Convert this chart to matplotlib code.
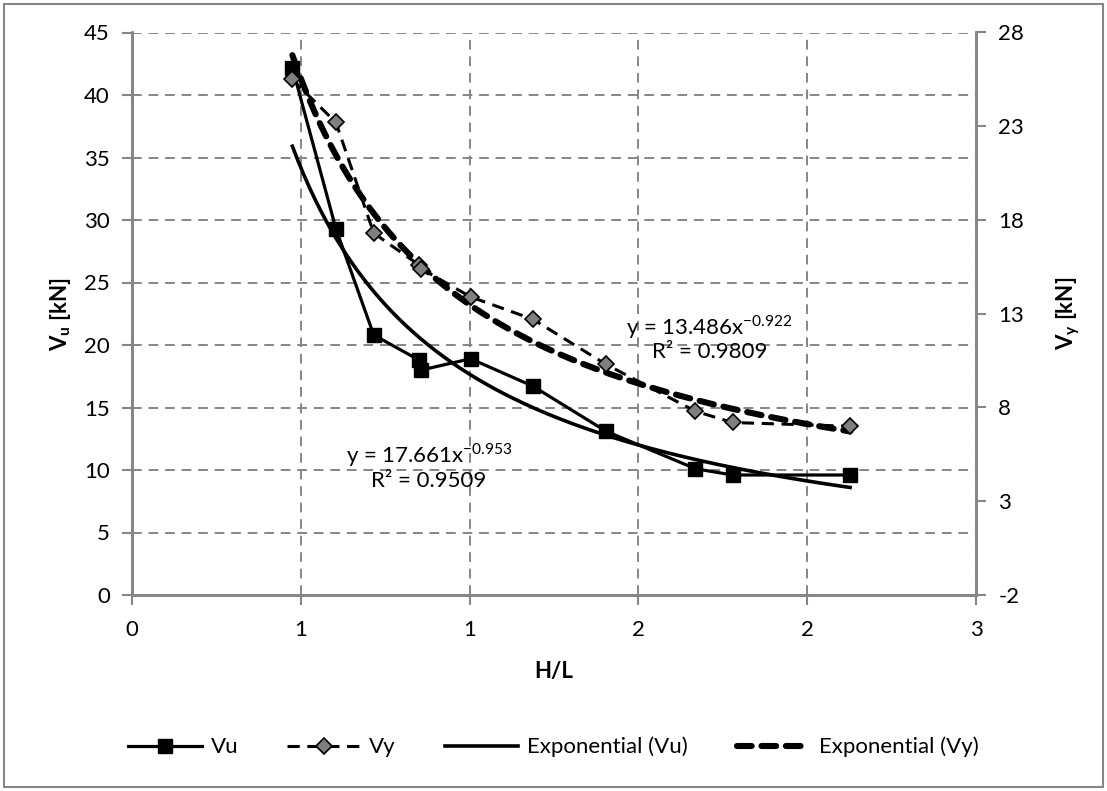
import numpy as np
import matplotlib.pyplot as plt
from matplotlib.patches import Rectangle

plt.rcParams['font.family'] = ['Lato', 'DejaVu Sans']
plt.rcParams['mathtext.fontset'] = 'custom'
plt.rcParams['mathtext.rm'] = 'Lato'
plt.rcParams['mathtext.bf'] = 'Lato:bold'
plt.rcParams['axes.unicode_minus'] = False

# H/L ratio and measured shear forces
hl = [0.475, 0.604, 0.716, 0.850, 0.857, 1.003, 1.188, 1.404, 1.669, 1.779, 2.127]
vu = [42.2, 29.3, 20.8, 18.8, 18.0, 18.9, 16.7, 13.1, 10.1, 9.6, 9.6]
vy = [25.5, 23.2, 17.3, 15.6, 15.4, 13.9, 12.7, 10.3, 7.8, 7.2, 7.0]

# power trendlines y = a * x^b
fit_vu = (17.661, -0.953, 0.9509)
fit_vy = (13.486, -0.922, 0.9809)

x_ticks = [0, 0.5, 1.0, 1.5, 2.0, 2.5]
vu_ticks = [0, 5, 10, 15, 20, 25, 30, 35, 40, 45]
vy_ticks = [-2, 3, 8, 13, 18, 23, 28]

GRAY = '#868686'
FS = 16

W, H = 1107, 791
fig = plt.figure(figsize=(W / 100, H / 100), dpi=100)
ax = fig.add_axes([132 / W, 1 - 595 / H, (976 - 132) / W, (595 - 32.5) / H])
ax2 = ax.twinx()

xs = np.linspace(min(hl), max(hl), 200)

l_vu, = ax.plot(hl, vu, color='black', lw=2.3, marker='s', ms=10,
                mfc='black', mec='black', zorder=4, label='Vu')
t_vu, = ax.plot(xs, fit_vu[0] * xs ** fit_vu[1], color='black', lw=2.6,
                zorder=3, label='Exponential (Vu)')
l_vy, = ax2.plot(hl, vy, color='black', lw=2.2, ls=(0, (4, 2.5)), marker='D',
                 ms=8.5, mfc='#7f7f7f', mec='black', mew=1.2, zorder=4, label='Vy')
t_vy, = ax2.plot(xs, fit_vy[0] * xs ** fit_vy[1], color='black', lw=4.4,
                 ls=(0, (2.4, 1.6)), dash_capstyle='round', zorder=3,
                 label='Exponential (Vy)')

ax.set_xlim(0, 2.5)
ax.set_ylim(0, 45)
ax2.set_ylim(-2, 28)
ax.set_xticks(x_ticks)
ax.set_xticklabels([str(int(np.floor(v + 0.5))) for v in x_ticks])
ax.set_yticks(vu_ticks)
ax2.set_yticks(vy_ticks)

ax.grid(True, color=GRAY, ls=(0, (5, 3.5)), lw=1.4)
ax.set_axisbelow(True)

for a in (ax, ax2):
    a.spines['top'].set_visible(False)
    for s in ('left', 'right', 'bottom'):
        a.spines[s].set_color(GRAY)
        a.spines[s].set_linewidth(2)
    a.tick_params(direction='out', length=7, width=1.5, color=GRAY,
                  labelsize=FS, pad=9)
ax.tick_params(axis='x', pad=11)

ax.set_xlabel('H/L', fontsize=FS, fontweight='bold', labelpad=15)
ax.set_ylabel(r'$\mathbf{V_u}$ [kN]', fontsize=FS, fontweight='bold', labelpad=8)
ax2.set_ylabel(r'$\mathbf{V_y}$ [kN]', fontsize=FS, fontweight='bold', labelpad=22)

def eq_label(fit):
    a, b, r2 = fit
    return 'y = %.3fx$^{%.3f}$\nR² = %.4f' % (a, b, r2)

ax.text(0.88, 10.3, eq_label(fit_vu), fontsize=FS, ha='center', va='center',
        linespacing=1.1, zorder=5)
ax.text(1.71, 20.6, eq_label(fit_vy), fontsize=FS, ha='center', va='center',
        linespacing=1.1, zorder=5)

fig.legend(handles=[l_vu, l_vy, t_vu, t_vy], loc='center',
           bbox_to_anchor=(0.5, 1 - 747 / H), ncol=4, frameon=False,
           fontsize=FS, handlelength=3.3, handletextpad=0.4, columnspacing=2.2)

fig.patches.append(Rectangle((4 / W, 4 / H), 1 - 8 / W, 1 - 8 / H,
                             transform=fig.transFigure, fill=False,
                             ec=GRAY, lw=1.5))

fig.savefig('out.png', dpi=100)
